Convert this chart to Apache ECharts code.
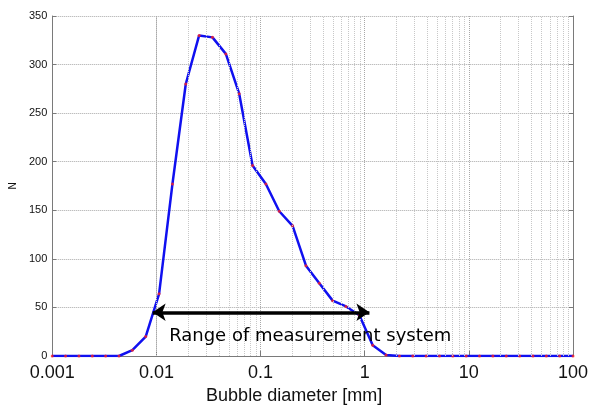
<!DOCTYPE html>
<html>
<head>
<meta charset="utf-8">
<script src="https://cdn.jsdelivr.net/npm/echarts@6/dist/echarts.min.js"></script>
<style>
  html, body { margin: 0; padding: 0; background: #fff; }
  #chart { width: 597px; height: 410px; }
</style>
</head>
<body>
<div id="chart"></div>
<script>
// bubble diameter [mm], log-spaced bins
const diameters = [
  0.001, 0.001343, 0.001804, 0.002424, 0.003256, 0.004375, 0.005878, 0.007896,
  0.01061, 0.01425, 0.01914, 0.02572, 0.03455, 0.04642, 0.06236, 0.08377,
  0.1125, 0.1512, 0.2031, 0.2729, 0.3666, 0.4925, 0.6616, 0.8888,
  1.194, 1.604, 2.154, 2.894, 3.888, 5.223, 7.017, 9.427,
  12.66, 17.01, 22.86, 30.71, 41.25, 55.42, 74.45, 100
];
// bubble count N
const counts = [
  0, 0, 0, 0, 0, 0, 6, 20,
  64, 177, 280, 330, 328, 311, 270, 196,
  177, 149, 134, 93, 75, 57, 51, 42,
  11, 1, 0, 0, 0, 0, 0, 0,
  0, 0, 0, 0, 0, 0, 0, 0
];
const xTicks = [0.001, 0.01, 0.1, 1, 10, 100];
const yTicks = [0, 50, 100, 150, 200, 250, 300, 350];

// measurement range arrow
const rangeStart = 0.0092;
const rangeEnd = 1.11;
const rangeLevel = 45;
const rangeText = 'Range of measurement system';

const points = diameters.map((d, i) => [d, counts[i]]);

// minor log grid lines 2..9 per decade
const minorLines = [];
for (let k = 0; k < xTicks.length - 1; k++) {
  for (let m = 2; m <= 9; m++) minorLines.push({ xAxis: xTicks[k] * m });
}

const chart = echarts.init(document.getElementById('chart'));
const axisColor = '#7a7a7a';
const fmtX = v => String(+Number(v).toPrecision(1));

const option = {
  animation: false,
  grid: { left: 49, right: 24, top: 16, bottom: 50 },
  xAxis: [
    {
      type: 'log',
      logBase: 10,
      min: xTicks[0],
      max: xTicks[xTicks.length - 1],
      name: 'Bubble diameter [mm]',
      nameLocation: 'middle',
      nameGap: 31,
      nameTextStyle: { fontFamily: 'Liberation Sans', fontSize: 18, color: '#111', padding: [0, 37, 0, 0] },
      axisLine: { lineStyle: { color: axisColor } },
      axisTick: { inside: true, length: 5, lineStyle: { color: axisColor } },
      axisLabel: { formatter: fmtX, fontFamily: 'Liberation Sans', fontSize: 18, color: '#111', margin: 8 },
      splitLine: { show: true, lineStyle: { color: '#a8a8a8', type: 'dotted' } }
    },
    {
      type: 'log',
      logBase: 10,
      min: xTicks[0],
      max: xTicks[xTicks.length - 1],
      position: 'top',
      axisLine: { show: true, lineStyle: { color: axisColor } },
      axisTick: { show: false },
      axisLabel: { show: false },
      splitLine: { show: false }
    }
  ],
  yAxis: [
    {
      type: 'value',
      min: yTicks[0],
      max: yTicks[yTicks.length - 1],
      interval: 50,
      name: 'N',
      nameLocation: 'middle',
      nameGap: 32,
      nameTextStyle: { fontFamily: 'Liberation Sans', fontSize: 10, color: '#111' },
      axisLine: { show: true, lineStyle: { color: axisColor } },
      axisTick: { inside: true, length: 4, lineStyle: { color: axisColor } },
      axisLabel: { fontFamily: 'Liberation Sans', fontSize: 11, color: '#111', margin: 5 },
      splitLine: { show: true, lineStyle: { color: '#a8a8a8', type: 'dotted' } }
    },
    {
      type: 'value',
      min: yTicks[0],
      max: yTicks[yTicks.length - 1],
      interval: 50,
      position: 'right',
      axisLine: { show: true, lineStyle: { color: axisColor } },
      axisTick: { inside: true, length: 4, lineStyle: { color: axisColor } },
      axisLabel: { show: false },
      splitLine: { show: false }
    }
  ],
  series: [
    {
      type: 'line',
      data: [],
      silent: true,
      markLine: {
        silent: true,
        symbol: 'none',
        label: { show: false },
        lineStyle: { color: '#c8c8c8', type: 'dotted', width: 1 },
        data: minorLines
      }
    },
    {
      name: 'N',
      type: 'line',
      data: points,
      showSymbol: false,
      lineStyle: { color: '#1010f0', width: 2.5 },
      itemStyle: { color: '#1010f0' },
      z: 3
    },
    {
      type: 'scatter',
      data: points,
      symbolSize: 3,
      itemStyle: { color: '#ff2020' },
      z: 4
    },
    {
      type: 'line',
      data: [],
      markLine: {
        silent: true,
        symbol: ['arrow', 'arrow'],
        symbolSize: 13,
        label: { show: false },
        lineStyle: { color: '#000', width: 3.5, type: 'solid' },
        data: [[{ coord: [rangeStart, rangeLevel] }, { coord: [rangeEnd, rangeLevel] }]],
        z: 5
      },
      markPoint: {
        symbol: 'circle',
        symbolSize: 0,
        silent: true,
        label: {
          show: true,
          position: 'inside',
          formatter: rangeText,
          fontFamily: 'DejaVu Sans',
          fontSize: 18,
          color: '#000'
        },
        data: [{ coord: [0.3, 20] }]
      }
    }
  ]
};

chart.setOption(option);
</script>
</body>
</html>
